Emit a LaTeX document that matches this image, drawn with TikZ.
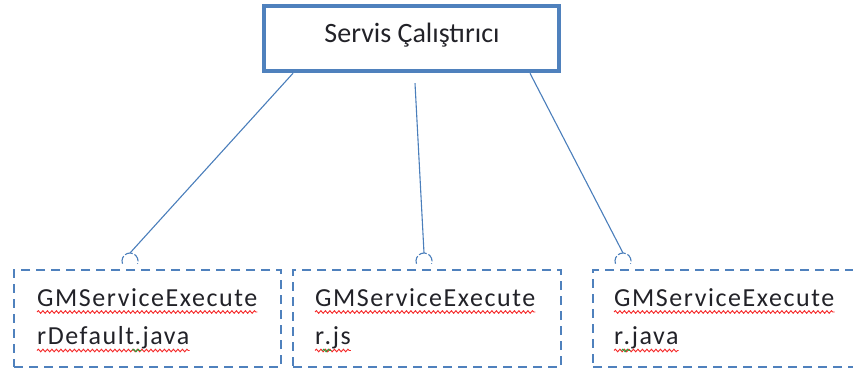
\documentclass[tikz,border=0pt]{standalone}
\usepackage{fontspec}
\setmainfont{Carlito}
\newfontfamily\boxfont[LetterSpace=6]{Carlito}
\usetikzlibrary{decorations.pathmorphing,calc}
\definecolor{frame}{RGB}{79,129,189}
\definecolor{link}{RGB}{74,126,187}
\definecolor{ink}{RGB}{34,34,40}
\definecolor{squig}{RGB}{245,40,40}
\definecolor{gsquig}{RGB}{40,160,60}
\begin{document}
\begin{tikzpicture}[x=1pt,y=-1pt,
  topbox/.style={draw=frame, line width=4.5pt, minimum width=295pt, minimum height=65pt, inner sep=0pt},
  title/.style={font=\fontsize{28}{34}\selectfont, text=ink, inner sep=0pt, anchor=base},
  implbox/.style={draw=frame, line width=1.8pt, dash pattern=on 9pt off 6pt, inner sep=0pt, minimum height=97pt},
  link/.style={draw=link, line width=1.1pt},
  socket/.style={draw=link, line width=1.1pt, dash pattern=on 8pt off 2pt},
  code/.style={font=\boxfont\fontsize{26}{30}\selectfont, text=ink, inner sep=0pt, anchor=base west},
  spell/.style={draw=squig, line width=0.9pt, decorate, decoration={snake, amplitude=1.3pt, segment length=4.5pt}},
  gspell/.style={spell, draw=gsquig}
]
\useasboundingbox (0,0) rectangle (853,374);
\begin{scope}
\clip (0,0) rectangle (853,374);

% runner component
\node[topbox] (top) at (411.5,38.5) {};
\node[title] (toplabel) at (412,43) {Servis Çalıştırıcı};

% implementation boxes
\node[implbox, minimum width=267pt] (b1) at (147.5,318.5) {};
\node[implbox, minimum width=268pt] (b2) at (427,318.5) {};
\node[implbox, minimum width=307pt] (b3) at (746.5,318.5) {};

% socket centres just above the boxes
\coordinate (c1) at (130,261);
\coordinate (c2) at (424,261);
\coordinate (c3) at (623,261);
\coordinate (k1) at ($(c1)+(90:8pt)$);
\coordinate (k2) at ($(c2)+(90:8pt)$);
\coordinate (k3) at ($(c3)+(90:8pt)$);

% required-interface sockets
\foreach \c in {c1,c2,c3}
  \draw[socket] ($(\c)+(200:8pt)$) arc[start angle=200, end angle=-20, radius=8pt];

% connectors
\draw[link] ([xshift=31.25pt]top.south west) -- (k1);
\draw[link] ([xshift=153.25pt, yshift=-10pt]top.south west) -- (k2);
\draw[link] ([xshift=268.25pt]top.south west) -- (k3);

% box texts
\node[code] (t1a) at (37,306) {GMServiceExecute};
\node[code] (t1b) at (37,344) {rDefault};
\node[code] (t1c) at (t1b.base east) {.java};

\node[code] (t2a) at (315,306) {GMServiceExecute};
\node[code] (t2b) at (315,344) {r};
\node[code] (t2c) at (t2b.base east) {.js};

\node[code] (t3a) at (614,306) {GMServiceExecute};
\node[code] (t3b) at (614,344) {r};
\node[code] (t3c) at (t3b.base east) {.java};

% spelling marks
\foreach \n in {t1a,t2a,t3a}
  \draw[spell] ([yshift=-6pt]\n.base west) -- ([yshift=-6pt]\n.base east);
\foreach \p/\q in {t1b/t1c,t2b/t2c,t3b/t3c}{
  \draw[spell] ([yshift=-6.5pt]\p.base west) -- ([yshift=-6.5pt]\q.base east);
  \draw[gspell] ([xshift=-2pt,yshift=-6.5pt]\p.base east) -- ([xshift=7pt,yshift=-6.5pt]\q.base west);
}
\end{scope}
\end{tikzpicture}
\end{document}
